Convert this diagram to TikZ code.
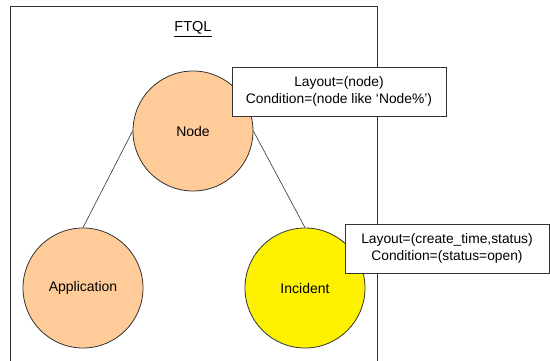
\documentclass[tikz,border=0pt]{standalone}
\usepackage{fontspec}
\setmainfont{Liberation Sans}
\usepackage{xcolor}
\definecolor{peach}{HTML}{FFCC99}
\definecolor{edge}{HTML}{333333}

\begin{document}
\begin{tikzpicture}[x=1pt,y=-1pt,
    entity/.style={circle,draw=edge,line width=0.8pt,minimum size=120pt,inner sep=0pt,font=\fontsize{14}{16}\selectfont},
    infobox/.style={draw=edge,fill=white,line width=0.8pt,align=center,inner sep=0pt,font=\fontsize{13.8}{17}\selectfont}]
    \useasboundingbox (0,0) rectangle (550,360);
    \draw [edge,line width=0.8pt] (10,365)--(10,6)--(377,6)--(377,365);
    \node (ftql) at (193,29) {\fontsize{14.5}{16}\selectfont\underline{FTQL}};
    \node [entity,fill=peach] (node) at (193,131) {Node};
    \node [entity,fill=peach] (app) at (83,288) {Application};
    \node [entity,fill=yellow] (inc) at (305,288) {Incident};
    \draw [edge,line width=0.6pt] (node.west)--(app.north);
    \draw [edge,line width=0.6pt] (node.east)--(inc.north);
    \node [infobox,minimum width=214pt,minimum height=49pt] (nodeinfo) at (339,91.5) {Layout=(node)\\Condition=(node like ‘Node\%’)};
    \node [infobox,minimum width=204pt,minimum height=49pt] (incinfo) at (447,248.5) {Layout=(create\_time,status)\\Condition=(status=open)};
\end{tikzpicture}
\end{document}
